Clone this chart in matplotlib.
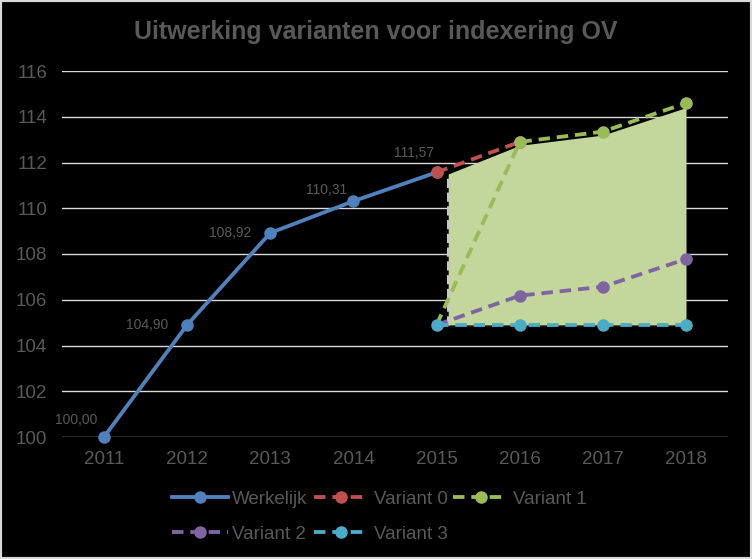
import numpy as np
import matplotlib.pyplot as plt
from matplotlib.patches import Rectangle

plt.rcParams['font.family'] = ['Liberation Sans', 'DejaVu Sans']

# data
years = [2011, 2012, 2013, 2014, 2015, 2016, 2017, 2018]
werkelijk = [100.00, 104.90, 108.92, 110.31, 111.57]
variant0 = [111.57, 112.90]
variant1 = [104.90, 112.90, 113.35, 114.60]
variant2 = [104.90, 106.18, 106.57, 107.78]
variant3 = [104.90, 104.90, 104.90, 104.90]
band_x = [2015.14, 2016, 2017, 2018]
band_top = [111.50, 112.75, 113.20, 114.40]
band_bottom = 104.90
yticks = list(range(100, 117, 2))

grey_txt = '#595959'
c_blue, c_red, c_green, c_purple, c_cyan = '#4F81BD', '#C0504D', '#9BBB59', '#8064A2', '#4BACC6'

fig = plt.figure(figsize=(7.52, 5.59), dpi=100, facecolor='black')
fig.patches.append(Rectangle((0, 0), 1, 1, transform=fig.transFigure, fill=False,
                             edgecolor='#d9d9d9', linewidth=3))
ax = fig.add_axes([62.4 / 752, (559 - 437) / 559, (727.6 - 62.4) / 752, (437 - 71) / 559])
ax.set_facecolor('black')

# shaded range between the variants
ax.fill_between(band_x, band_top, band_bottom, color='#c3d69b', zorder=2, linewidth=0)
ax.plot([band_x[0], band_x[0]], [band_bottom, band_top[0]], color='#c8c8c8',
        linestyle=(0, (3, 1.5)), lw=2.2, zorder=2.5)

lw = 2.75
ms = 8
dash = (0, (3, 1.8))
ax.plot(years[:5], werkelijk, color=c_blue, lw=lw, marker='o', ms=ms, label='Werkelijk',
        zorder=4, clip_on=False)
ax.plot(years[4:6], variant0, color=c_red, lw=lw, ls=dash, marker='o', ms=ms, label='Variant 0',
        zorder=5, clip_on=False)
ax.plot(years[4:], variant1, color=c_green, lw=lw, ls=dash, marker='o', ms=ms, label='Variant 1',
        zorder=6, clip_on=False, markevery=[1, 2, 3])
ax.plot(years[4:], variant2, color=c_purple, lw=lw, ls=dash, marker='o', ms=ms, label='Variant 2',
        zorder=6, clip_on=False, markevery=[1, 2, 3])
ax.plot(years[4:], variant3, color=c_cyan, lw=lw, ls=dash, marker='o', ms=ms, label='Variant 3',
        zorder=7, clip_on=False)

# data labels on the actual series
offsets = [(-20, 12), (-29, 0), (-29, 0), (-19, 8), (-16, 14)]
for x, y, off in zip(years[:5], werkelijk, offsets):
    ax.annotate(f'{y:.2f}'.replace('.', ','), (x, y), xytext=off, textcoords='offset points',
                ha='center', va='center', fontsize=10, color=grey_txt, zorder=8)

ax.set_xlim(2010.5, 2018.5)
ax.set_ylim(100, 116)
ax.set_xticks(years)
ax.set_yticks(yticks)
ax.tick_params(length=0, colors=grey_txt, labelsize=13.5)
ax.tick_params(axis='y', pad=11)
ax.tick_params(axis='x', pad=10)
ax.grid(axis='y', color='#d9d9d9', lw=1, zorder=1)
ax.set_axisbelow(True)
for s in ax.spines.values():
    s.set_visible(False)

fig.text(0.5, 1 - 32 / 559, 'Uitwerking varianten voor indexering OV', ha='center', va='center',
         fontsize=18, fontweight='bold', color=grey_txt)

h, l = ax.get_legend_handles_labels()
order = [0, 3, 1, 4, 2]
ax.legend([h[i] for i in order], [l[i] for i in order], ncol=3, frameon=False,
          loc='upper left', bbox_to_anchor=(163 / 752, (559 - 481) / 559),
          bbox_transform=fig.transFigure, borderpad=0, fontsize=13.5, labelcolor=grey_txt,
          handlelength=2.95, handletextpad=0.25, columnspacing=0.3, labelspacing=0.96)

fig.savefig('out.png', dpi=100, facecolor='black')
